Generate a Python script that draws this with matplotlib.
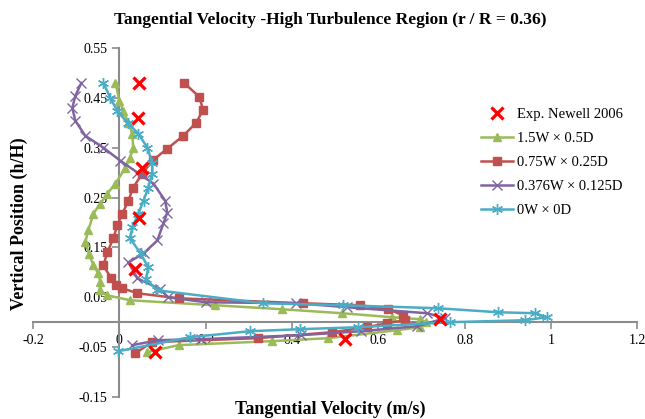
import matplotlib
matplotlib.use("Agg")
import matplotlib.pyplot as plt

# ---- data ----
exp_x = [0.046, 0.044, 0.052, 0.046, 0.037, 0.743, 0.523, 0.083]
exp_y = [0.48, 0.41, 0.31, 0.21, 0.106, 0.006, -0.034, -0.06]

g_x = [-0.009, 0.0, 0.009, 0.021, 0.030, 0.032, 0.025, 0.014, -0.009, -0.028, -0.044, -0.060,
       -0.072, -0.079, -0.070, -0.060, -0.049, -0.044, -0.046, -0.028, 0.025, 0.222, 0.377,
       0.516, 0.632, 0.697, 0.71, 0.697, 0.643, 0.484, 0.354, 0.137, 0.065]
g_y = [0.48, 0.444, 0.424, 0.40, 0.378, 0.35, 0.33, 0.31, 0.278, 0.258, 0.238, 0.218,
       0.184, 0.16, 0.136, 0.114, 0.098, 0.08, 0.064, 0.054, 0.044, 0.034, 0.026,
       0.018, 0.01, 0.006, 0.0, -0.01, -0.016, -0.032, -0.038, -0.046, -0.06]

r_x = [0.150, 0.185, 0.194, 0.178, 0.148, 0.111, 0.079, 0.053, 0.032, 0.021, 0.007, -0.005,
       -0.014, -0.028, -0.037, -0.019, -0.007, 0.007, 0.042, 0.137, 0.426, 0.558, 0.623,
       0.657, 0.662, 0.62, 0.574, 0.493, 0.32, 0.076, 0.037]
r_y = [0.48, 0.452, 0.426, 0.40, 0.374, 0.348, 0.326, 0.298, 0.27, 0.244, 0.218, 0.194,
       0.168, 0.14, 0.114, 0.088, 0.074, 0.068, 0.058, 0.048, 0.038, 0.034, 0.026,
       0.014, 0.004, -0.002, -0.01, -0.02, -0.032, -0.04, -0.062]

p_x = [-0.088, -0.102, -0.109, -0.102, -0.079, -0.037, 0.002, 0.042, 0.079, 0.106, 0.111,
       0.102, 0.088, 0.056, 0.021, 0.042, 0.095, 0.113, 0.2, 0.41, 0.528, 0.713, 0.755,
       0.69, 0.56, 0.42, 0.19, 0.09, 0.03]
p_y = [0.48, 0.454, 0.43, 0.404, 0.374, 0.35, 0.324, 0.30, 0.278, 0.244, 0.22,
       0.198, 0.164, 0.138, 0.12, 0.088, 0.066, 0.05, 0.04, 0.038, 0.03, 0.018, 0.008,
       -0.008, -0.018, -0.026, -0.034, -0.036, -0.046]

c_x = [-0.037, -0.021, -0.005, 0.019, 0.044, 0.065, 0.076, 0.076, 0.067, 0.056, 0.044, 0.03,
       0.025, 0.049, 0.067, 0.062, 0.088, 0.333, 0.519, 0.738, 0.877, 0.963, 0.99, 0.94,
       0.766, 0.553, 0.419, 0.303, 0.164, -0.002]
c_y = [0.48, 0.45, 0.424, 0.40, 0.378, 0.35, 0.32, 0.298, 0.27, 0.244, 0.218, 0.19,
       0.168, 0.138, 0.11, 0.086, 0.064, 0.038, 0.034, 0.028, 0.02, 0.018, 0.01, 0.004,
       0.0, -0.01, -0.014, -0.018, -0.03, -0.058]

labels = ["Exp. Newell 2006", "1.5W \u00d7 0.5D", "0.75W \u00d7 0.25D",
          "0.376W \u00d7 0.125D", "0W \u00d7 0D"]
x_ticks = [-0.2, 0, 0.2, 0.4, 0.6, 0.8, 1.0, 1.2]
x_ticklabels = ["-0.2", "0", "0.2", "0.4", "0.6", "0.8", "1", "1.2"]
y_ticks = [-0.15, -0.05, 0.05, 0.15, 0.25, 0.35, 0.45, 0.55]
y_ticklabels = ["-0.15", "-0.05", "0.05", "0.15", "0.25", "0.35", "0.45", "0.55"]

plt.rcParams['font.family'] = ['Liberation Serif', 'DejaVu Serif']

fig = plt.figure(figsize=(6.45, 4.19), dpi=100)
ax = fig.add_axes([0.0512, 0.0525, 0.937, 0.833])

green, red, purple, cyan = "#9BBB59", "#C0504D", "#8064A2", "#4BACC6"
lw = 1.8
h1, = ax.plot(g_x, g_y, color=green, lw=lw, marker='^', ms=6, mec=green, mfc=green, zorder=3)
h2, = ax.plot(r_x, r_y, color=red, lw=lw, marker='s', ms=6, mec=red, mfc=red, zorder=3)
h3, = ax.plot(p_x, p_y, color=purple, lw=lw, marker='x', ms=7, mew=1.0, mec=purple, zorder=4)
h4, = ax.plot(c_x, c_y, color=cyan, lw=lw, marker=(6, 2, 0), ms=8, mew=1.0, mec=cyan, zorder=5)
h0, = ax.plot(exp_x, exp_y, ls='none', marker='x', ms=8, mew=2.3, color='#FF0000', zorder=6)

ax.set_xlim(-0.2, 1.2)
ax.set_ylim(-0.15, 0.55)
for s in ['top', 'right']:
    ax.spines[s].set_visible(False)
ax.spines['left'].set_position(('data', 0))
ax.spines['bottom'].set_position(('data', 0))
for s in ['left', 'bottom']:
    ax.spines[s].set_color('#8C8C8C')
    ax.spines[s].set_linewidth(1.5)
ax.set_xticks(x_ticks)
ax.set_xticklabels(x_ticklabels)
ax.set_yticks(y_ticks)
ax.set_yticklabels(y_ticklabels)
ax.tick_params(axis='both', colors='#8C8C8C', labelcolor='black', labelsize=10,
               length=5, width=1.2, direction='out')
ax.patch.set_alpha(0)

leg = fig.legend([h0, h1, h2, h3, h4], labels, loc='upper left',
                 bbox_to_anchor=(0.725, 0.775), frameon=False, fontsize=10.5,
                 handlelength=2.2, handletextpad=0.3, labelspacing=0.75)

fig.text(0.512, 0.952, "Tangential Velocity -High Turbulence Region (r / R = 0.36)",
         ha='center', va='center', fontsize=12.5, fontweight='bold')
fig.text(0.512, 0.022, "Tangential Velocity (m/s)", ha='center', va='center',
         fontsize=13, fontweight='bold')
fig.text(0.030, 0.465, "Vertical Position (h/H)", ha='center', va='center',
         rotation=90, fontsize=13, fontweight='bold')

fig.savefig("out.png", dpi=100)
